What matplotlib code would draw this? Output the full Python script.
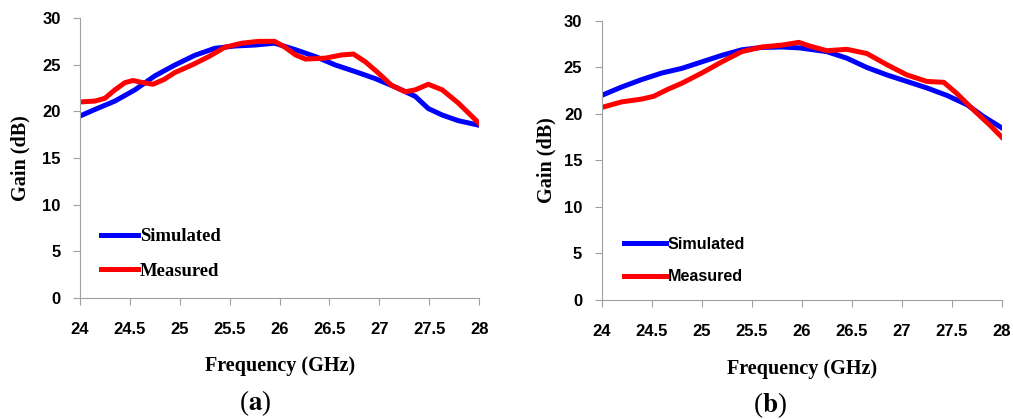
import numpy as np
import matplotlib.pyplot as plt

plt.rcParams['mathtext.fontset'] = 'stix'

# panel (a)
freq_as = [24.0, 24.15, 24.35, 24.55, 24.75, 24.95, 25.15, 25.35, 25.55, 25.75, 25.95,
           26.16, 26.36, 26.56, 26.76, 26.96, 27.16, 27.36, 27.49, 27.63, 27.79, 28.0]
sim_a = [19.5, 20.2, 21.1, 22.3, 23.8, 24.96, 26.0, 26.75, 27.0, 27.1, 27.3,
         26.6, 25.86, 24.96, 24.25, 23.5, 22.6, 21.6, 20.3, 19.6, 19.0, 18.5]
freq_am = [24.0, 24.15, 24.25, 24.35, 24.45, 24.53, 24.62, 24.73, 24.84, 24.95, 25.12,
           25.29, 25.45, 25.62, 25.79, 25.95, 26.05, 26.16, 26.26, 26.46, 26.62, 26.74,
           26.86, 26.99, 27.12, 27.26, 27.36, 27.49, 27.63, 27.79, 28.0]
meas_a = [21.0, 21.1, 21.4, 22.3, 23.07, 23.3, 23.1, 22.9, 23.4, 24.15, 24.96,
          25.86, 26.86, 27.3, 27.5, 27.5, 26.9, 26.04, 25.6, 25.7, 26.04, 26.14,
          25.3, 24.1, 22.8, 22.1, 22.3, 22.9, 22.3, 20.9, 18.7]

# panel (b)
freq_bs = [24.0, 24.2, 24.4, 24.6, 24.8, 25.0, 25.2, 25.4, 25.6, 25.8, 25.98,
           26.25, 26.45, 26.65, 26.85, 27.05, 27.25, 27.45, 27.65, 27.82, 28.0]
sim_b = [22.0, 22.9, 23.7, 24.4, 24.9, 25.6, 26.3, 26.9, 27.15, 27.2, 27.1,
         26.7, 26.0, 25.0, 24.2, 23.5, 22.8, 22.0, 21.0, 19.7, 18.5]
freq_bm = [24.0, 24.2, 24.4, 24.52, 24.65, 24.8, 25.0, 25.2, 25.4, 25.6, 25.8,
           25.97, 26.08, 26.25, 26.45, 26.65, 26.85, 27.05, 27.25, 27.42, 27.55,
           27.72, 27.88, 28.0]
meas_b = [20.7, 21.3, 21.6, 21.9, 22.6, 23.3, 24.4, 25.6, 26.7, 27.2, 27.4,
          27.7, 27.3, 26.8, 26.95, 26.5, 25.3, 24.2, 23.5, 23.4, 22.2,
          20.4, 18.8, 17.5]

xticks = [24, 24.5, 25, 25.5, 26, 26.5, 27, 27.5, 28]
xticklabels = ['24', '24.5', '25', '25.5', '26', '26.5', '27', '27.5', '28']
yticks = [0, 5, 10, 15, 20, 25, 30]

fig = plt.figure(figsize=(10.13, 4.19), dpi=100)
ax_a = fig.add_axes([0.079, 0.289, 0.394, 0.668])
ax_b = fig.add_axes([0.594, 0.284, 0.395, 0.666])

tick_font = dict(family='Liberation Sans', weight='bold', size=12)
serif_bold = dict(family='Liberation Serif', weight='bold', size=14.5)

for ax, f_s, s, f_m, m in [(ax_a, freq_as, sim_a, freq_am, meas_a),
                           (ax_b, freq_bs, sim_b, freq_bm, meas_b)]:
    ax.plot(f_s, s, color='#0000ff', lw=3.6, solid_joinstyle='round', label='Simulated')
    ax.plot(f_m, m, color='#ff0000', lw=3.6, solid_joinstyle='round', label='Measured')
    ax.set_xlim(24, 28)
    ax.set_ylim(0, 30)
    ax.set_xticks(xticks)
    ax.set_xticklabels(xticklabels, fontdict=tick_font)
    ax.set_yticks(yticks)
    ax.set_yticklabels([str(v) for v in yticks], fontdict=tick_font)
    ax.spines['top'].set_visible(False)
    ax.spines['right'].set_visible(False)
    ax.spines['left'].set_color('#a0a0a0')
    ax.spines['bottom'].set_color('#a0a0a0')
    ax.tick_params(axis='x', length=5, color='#a0a0a0', pad=12)
    ax.tick_params(axis='y', length=5, color='#a0a0a0', pad=9)
    ax.set_xlabel('Frequency (GHz)', fontdict=serif_bold)
    ax.set_ylabel('Gain (dB)', fontdict=serif_bold)

ax_a.xaxis.set_label_coords(0.5, -0.206)
ax_a.yaxis.set_label_coords(-0.123, 0.5)
ax_b.xaxis.set_label_coords(0.5, -0.21)
ax_b.yaxis.set_label_coords(-0.112, 0.5)

leg_a = ax_a.legend(loc='lower left', bbox_to_anchor=(0.01, 0.005), frameon=False,
                    prop=dict(family='Liberation Serif', weight='bold', size=13.4),
                    handlelength=2.0, handletextpad=0.1, labelspacing=0.95)
leg_b = ax_b.legend(loc='lower left', bbox_to_anchor=(0.02, 0.004), frameon=False,
                    prop=dict(family='Liberation Sans', weight='bold', size=11.6),
                    handlelength=2.6, handletextpad=0.1, labelspacing=1.1)

fig.text(0.252, 0.038, r'($\mathbf{a}$)', ha='center', va='center', fontsize=19.5,
         family='Liberation Serif')
fig.text(0.760, 0.033, r'($\mathbf{b}$)', ha='center', va='center', fontsize=19.5,
         family='Liberation Serif')

fig.savefig('out.png', dpi=100)
